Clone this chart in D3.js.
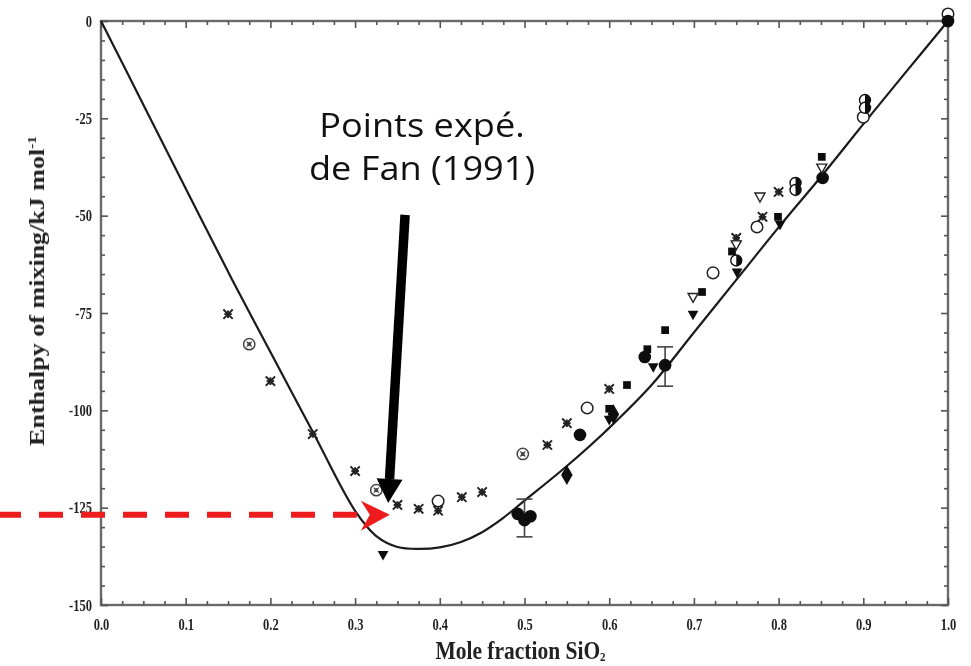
<!DOCTYPE html>
<html><head><meta charset="utf-8">
<script src="https://cdn.jsdelivr.net/npm/d3@7"></script>
<style>html,body{margin:0;padding:0;background:#fff;} svg{display:block}</style>
</head><body><svg id="chart" width="971" height="666"></svg>
<script>
// Model curve: enthalpy of mixing (kJ/mol) against mole fraction of SiO2
const modelX = [0, 0.05, 0.1, 0.155, 0.2, 0.25, 0.3, 0.325, 0.35, 0.375, 0.4, 0.425, 0.45, 0.475, 0.5, 0.55, 0.6, 0.65, 0.7, 0.75, 0.8, 0.85, 0.9, 0.95, 1.0];
const modelY = [0, -21.5, -43, -66.5, -85, -105.5, -125.8, -132.3, -135.1, -135.6, -135.2, -133.8, -131.3, -127.6, -123.2, -114.3, -104.5, -93.5, -80, -66.5, -53, -40, -26.5, -13.2, 0];

// Experimental points, grouped by marker
const fanAsterisk = [[0.15,-75.3],[0.2,-92.5],[0.25,-106.1],[0.3,-115.6],[0.35,-124.3],[0.375,-125.3],[0.398,-125.8],[0.426,-122.3],[0.45,-121],[0.527,-108.9],[0.55,-103.3],[0.6,-94.5],[0.75,-55.7],[0.781,-50.3],[0.8,-43.9]];
const circleCross = [[0.175,-83],[0.325,-120.5],[0.498,-111.2]];
const openCircle = [[0.398,-123.3],[0.574,-99.4],[0.7226,-64.7],[0.7745,-52.9],[0.9,-24.7],[1.0,1.8]];
const filledCircle = [[0.492,-126.6],[0.5,-128.2],[0.507,-127.2],[0.5655,-106.3],[0.642,-86.3],[0.666,-88.4],[0.852,-40.3],[1.0,0]];
const filledSquare = [[0.6,-99.6],[0.621,-93.5],[0.645,-84.3],[0.666,-79.4],[0.7096,-69.6],[0.745,-59.2],[0.7993,-50.3],[0.851,-34.9]];
const filledTriDown = [[0.333,-137.2],[0.6,-102.5],[0.652,-89],[0.699,-75.5],[0.751,-64.7],[0.8017,-52.4]];
const filledDiamond = [[0.55,-116.6],[0.605,-101]];
const openTriDown = [[0.699,-71],[0.75,-57.5],[0.778,-45.2],[0.851,-37.8]];
const halfCircle = [[0.75,-61.5],[0.82,-41.6],[0.82,-43.4],[0.902,-20.3],[0.902,-22.3]];
// [x, upper, lower]
const errorBars = [[0.5,-122.8,-132.5],[0.666,-83.7,-93.8]];

// Axis ticks
const xMajor = [0,0.1,0.2,0.3,0.4,0.5,0.6,0.7,0.8,0.9,1.0];
const xTickLabels = ["0.0","0.1","0.2","0.3","0.4","0.5","0.6","0.7","0.8","0.9","1.0"];
const yMajor = [0,-25,-50,-75,-100,-125,-150];
const yTickLabels = ["0","-25","-50","-75","-100","-125","-150"];

// Annotation
const noteLines = ["Points expé.", "de Fan (1991)"];
const noteAnchor = [0.379, -29.8];
const noteArrowFrom = [0.359, -49.8];
const noteArrowTo = [0.339, -123.8];
const levelY = -126.8;
const levelArrowX = 0.341;

const svg = d3.select("#chart");
const x = d3.scaleLinear().domain([0,1]).range([101,948]);
const y = d3.scaleLinear().domain([-150,0]).range([605,21]);

const defs = svg.append("defs");
defs.append("filter").attr("id","soft").attr("x","-5%").attr("y","-5%").attr("width","110%").attr("height","110%")
  .append("feGaussianBlur").attr("stdDeviation",0.55);

const plot = svg.append("g").attr("filter","url(#soft)");
const serif = "'Liberation Serif', 'Times New Roman', serif";
const stretch = 1.27; // the figure's lettering is taller than it is wide

// Frame
plot.append("rect").attr("x",x(0)).attr("y",y(0)).attr("width",x(1)-x(0)).attr("height",y(-150)-y(0))
  .attr("fill","none").attr("stroke","#6a6a6a").attr("stroke-width",2.4);

const xMinor = d3.range(0,41).map(i=>i*0.025).filter(v=>Math.abs(v*10-Math.round(v*10))>1e-6);
const yMinor = d3.range(0,31).map(i=>-i*5).filter(v=>v%25!==0);

function styleAxis(g){
  g.select(".domain").remove();
  g.selectAll(".tick line").attr("stroke","#555").attr("stroke-width",1.6);
}
function stretchLabels(g){
  g.selectAll(".tick text").each(function(){
    const t = d3.select(this);
    const yy = +t.attr("y") || 0;
    t.attr("font-family",serif).attr("font-weight","bold").attr("font-size",12.5).attr("fill","#222")
     .attr("transform",`scale(1,${stretch})`).attr("y", yy/stretch);
  });
}
// ticks point inward on all four sides
plot.append("g").attr("transform",`translate(0,${y(-150)})`)
  .call(d3.axisBottom(x).tickValues(xMajor).tickSize(-7).tickPadding(14).tickFormat((d,i)=>xTickLabels[i]))
  .call(styleAxis).call(stretchLabels);
plot.append("g").attr("transform",`translate(0,${y(-150)})`)
  .call(d3.axisBottom(x).tickValues(xMinor).tickSize(-4).tickFormat("")).call(styleAxis);
plot.append("g").attr("transform",`translate(0,${y(0)})`)
  .call(d3.axisTop(x).tickValues(xMajor).tickSize(-7).tickFormat("")).call(styleAxis);
plot.append("g").attr("transform",`translate(0,${y(0)})`)
  .call(d3.axisTop(x).tickValues(xMinor).tickSize(-4).tickFormat("")).call(styleAxis);

plot.append("g").attr("transform",`translate(${x(0)},0)`)
  .call(d3.axisLeft(y).tickValues(yMajor).tickSize(-7).tickPadding(9).tickFormat((d,i)=>yTickLabels[i]))
  .call(styleAxis).call(stretchLabels);
plot.append("g").attr("transform",`translate(${x(0)},0)`)
  .call(d3.axisLeft(y).tickValues(yMinor).tickSize(-4).tickFormat("")).call(styleAxis);
plot.append("g").attr("transform",`translate(${x(1)},0)`)
  .call(d3.axisRight(y).tickValues(yMajor).tickSize(-7).tickFormat("")).call(styleAxis);
plot.append("g").attr("transform",`translate(${x(1)},0)`)
  .call(d3.axisRight(y).tickValues(yMinor).tickSize(-4).tickFormat("")).call(styleAxis);

// Axis titles
plot.append("text").attr("transform",`translate(${(x(0)+x(1))/2 - 4},659) scale(1,1.22)`).attr("text-anchor","middle")
  .attr("font-family",serif).attr("font-weight","bold").attr("font-size",21.5).attr("fill","#222")
  .call(t=>{ t.append("tspan").text("Mole fraction SiO"); t.append("tspan").attr("font-size",11).attr("dy",2).text("2"); });
plot.append("text").attr("transform",`translate(44,291) rotate(-90) scale(${stretch},1)`).attr("text-anchor","middle")
  .attr("font-family",serif).attr("font-weight","bold").attr("font-size",20.5).attr("fill","#222")
  .call(t=>{ t.append("tspan").text("Enthalpy of mixing/kJ mol"); t.append("tspan").attr("font-size",12).attr("dy",-8).text("-1"); });

// Model curve
const line = d3.line().x((d,i)=>x(modelX[i])).y((d,i)=>y(modelY[i])).curve(d3.curveCatmullRom.alpha(0.5));
plot.append("path").attr("d",line(modelX)).attr("fill","none").attr("stroke","#1a1a1a").attr("stroke-width",2.2);

// Marker shapes
const asterisk = {draw(c,s){const r=Math.sqrt(s)/2, d=r*0.8, p=r*0.65;
  c.moveTo(-d,-d);c.lineTo(d,d);c.moveTo(-d,d);c.lineTo(d,-d);
  c.moveTo(-p,0);c.lineTo(p,0);c.moveTo(0,-p);c.lineTo(0,p);}};
const triDown = {draw(c,s){const r=Math.sqrt(s)/2;
  c.moveTo(-r,-r*0.8);c.lineTo(r,-r*0.8);c.lineTo(0,r);c.closePath();}};
const sym = (type,size)=>d3.symbol().type(type).size(size)();

function markers(data, type, size, fill, stroke, sw){
  plot.append("g").selectAll("path").data(data).join("path")
    .attr("transform",d=>`translate(${x(d[0])},${y(d[1])})`)
    .attr("d",sym(type,size)).attr("fill",fill).attr("stroke",stroke).attr("stroke-width",sw);
}

// Error bars
const eb = plot.append("g").attr("stroke","#444").attr("stroke-width",1.6);
errorBars.forEach(d=>{
  eb.append("line").attr("x1",x(d[0])).attr("x2",x(d[0])).attr("y1",y(d[1])).attr("y2",y(d[2]));
  [d[1],d[2]].forEach(v=>eb.append("line").attr("x1",x(d[0])-8).attr("x2",x(d[0])+8).attr("y1",y(v)).attr("y2",y(v)));
});

markers(fanAsterisk, asterisk, 135, "none", "#222", 1.9);
markers(circleCross, d3.symbolCircle, 100, "none", "#444", 1.5);
markers(circleCross, asterisk, 40, "none", "#444", 1.2);
markers(openCircle, d3.symbolCircle, 105, "#fff", "#222", 1.5);
markers(filledCircle, d3.symbolCircle, 125, "#0d0d0d", "none", 0);
markers(filledSquare, d3.symbolSquare, 60, "#0d0d0d", "none", 0);
markers(filledTriDown, triDown, 115, "#0d0d0d", "none", 0);
markers(filledDiamond, d3.symbolDiamond, 115, "#0d0d0d", "none", 0);
markers(openTriDown, triDown, 100, "#fff", "#222", 1.4);
markers(halfCircle, d3.symbolCircle, 95, "#fff", "#111", 1.4);
const half = d3.arc().innerRadius(0).outerRadius(5.5).startAngle(0).endAngle(Math.PI);
plot.append("g").selectAll("path").data(halfCircle).join("path")
  .attr("transform",d=>`translate(${x(d[0])},${y(d[1])})`).attr("d",half()).attr("fill","#111");

// Annotation: label and black arrow
const note = svg.append("g");
note.append("g").selectAll("text").data(noteLines).join("text")
  .attr("transform",(d,i)=>`translate(${x(noteAnchor[0])},${y(noteAnchor[1])+i*43}) scale(1.13,1)`)
  .attr("text-anchor","middle").attr("font-family","'Open Sans', sans-serif").attr("font-size",32).attr("fill","#111")
  .text(d=>d);

const ax0 = x(noteArrowFrom[0]), ay0 = y(noteArrowFrom[1]);
const ax1 = x(noteArrowTo[0]), ay1 = y(noteArrowTo[1]);
const ang = Math.atan2(ay1-ay0, ax1-ax0), headL = 24, headW = 13;
const bx = ax1 - headL*Math.cos(ang), by = ay1 - headL*Math.sin(ang);
note.append("line").attr("x1",ax0).attr("y1",ay0).attr("x2",bx).attr("y2",by).attr("stroke","#000").attr("stroke-width",9.5);
note.append("path").attr("fill","#000").attr("d",
  `M${ax1},${ay1}L${bx+headW*Math.sin(ang)},${by-headW*Math.cos(ang)}L${bx-headW*Math.sin(ang)},${by+headW*Math.cos(ang)}Z`);

// Red dashed level line with chevron head
const ly = y(levelY), tipX = x(levelArrowX);
note.append("line").attr("x1",0).attr("x2",tipX-33).attr("y1",ly).attr("y2",ly)
  .attr("stroke","#ee1c1c").attr("stroke-width",6).attr("stroke-dasharray","24 18").attr("stroke-dashoffset",3);
note.append("path").attr("fill","#ee1c1c").attr("d",
  `M${tipX},${ly}L${tipX-29},${ly-14}L${tipX-20},${ly}L${tipX-29},${ly+16}Z`);
</script>
</body></html>
